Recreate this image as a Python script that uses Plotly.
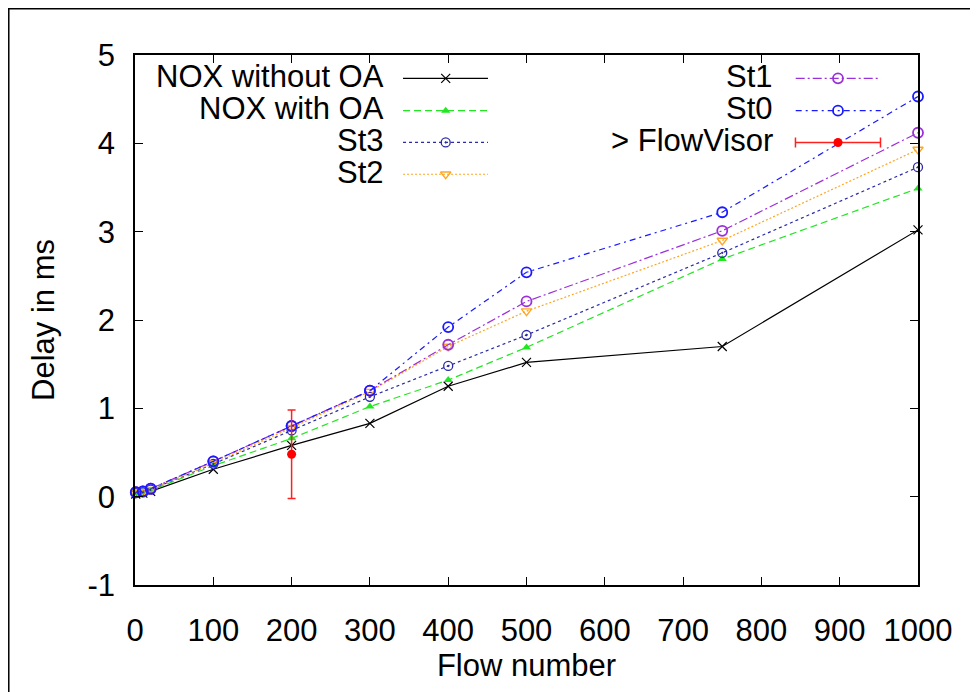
import plotly.graph_objects as go

# ---------------- data ----------------
flows = [1, 10, 20, 100, 200, 300, 400, 500, 750, 1000]
nox_without_oa = [0.03, 0.04, 0.06, 0.31, 0.58, 0.83, 1.25, 1.52, 1.70, 3.02]
nox_with_oa = [0.04, 0.05, 0.07, 0.35, 0.66, 1.02, 1.32, 1.69, 2.69, 3.49]
st3 = [0.04, 0.05, 0.08, 0.37, 0.75, 1.13, 1.48, 1.83, 2.76, 3.73]
st2 = [0.04, 0.05, 0.08, 0.38, 0.78, 1.19, 1.70, 2.10, 2.90, 3.93]
st1 = [0.05, 0.06, 0.09, 0.40, 0.80, 1.20, 1.72, 2.21, 3.01, 4.12]
st0 = [0.05, 0.06, 0.09, 0.40, 0.80, 1.20, 1.92, 2.54, 3.22, 4.53]
flowvisor_x = [200]
flowvisor_y = [0.48]
flowvisor_err = [0.50]

x_ticks = [0, 100, 200, 300, 400, 500, 600, 700, 800, 900, 1000]
y_ticks = [-1, 0, 1, 2, 3, 4, 5]

series_names = ["NOX without OA", "NOX with OA", "St3", "St2", "St1", "St0", "> FlowVisor"]

# ---------------- styles ----------------
FONT = "Liberation Sans, Arial, Helvetica, sans-serif"
FS = 31
styles = [
    dict(color="#000000", dash="solid", symbol="x-thin-open", size=9, mlw=1.2),
    dict(color="#22e622", dash="7px,4px", symbol="triangle-up", size=8, mlw=0),
    dict(color="#2a2aa8", dash="3px,3px", symbol="circle-open-dot", size=9, mlw=1.3),
    dict(color="#ffa520", dash="2px,2px", symbol="triangle-down-open", size=9, mlw=1.3),
    dict(color="#9b30d9", dash="9px,3px,2px,3px", symbol="circle-open", size=10, mlw=1.8),
    dict(color="#1a1aff", dash="6px,4px,2px,4px", symbol="circle-open", size=10, mlw=1.8),
]
series_vals = [nox_without_oa, nox_with_oa, st3, st2, st1, st0]

fig = go.Figure()

for name, vals, st in zip(series_names[:6], series_vals, styles):
    fig.add_trace(go.Scatter(
        x=flows, y=vals, mode="lines+markers", name=name,
        line=dict(color=st["color"], width=1.2, dash=st["dash"]),
        marker=dict(symbol=st["symbol"], size=st["size"], color=st["color"],
                    line=dict(color=st["color"], width=st["mlw"])),
        cliponaxis=False, showlegend=False,
    ))

fig.add_trace(go.Scatter(
    x=flowvisor_x, y=flowvisor_y, mode="markers", name=series_names[6],
    marker=dict(symbol="circle", size=9, color="#ff0000"),
    error_y=dict(type="data", array=flowvisor_err, color="#ff2020", thickness=1.5, width=4),
    cliponaxis=False, showlegend=False,
))

# ---------------- manual gnuplot-style key (overlay axes in 0..1 units) ----------------
key_rows = [0.956, 0.895, 0.835, 0.775]
col1 = dict(text_x=0.321, x0=0.3423, x1=0.4508, xm=0.3968)
col2 = dict(text_x=0.818, x0=0.8438, x1=0.9524, xm=0.8978)
key_layout = [(col1, key_rows[0]), (col1, key_rows[1]), (col1, key_rows[2]), (col1, key_rows[3]),
              (col2, key_rows[0]), (col2, key_rows[1])]

for name, st, (col, ky) in zip(series_names[:6], styles, key_layout):
    fig.add_trace(go.Scatter(
        x=[col["x0"], col["x1"]], y=[ky, ky], mode="lines", xaxis="x2", yaxis="y2",
        line=dict(color=st["color"], width=1.2, dash=st["dash"]),
        showlegend=False, hoverinfo="skip", cliponaxis=False,
    ))
    fig.add_trace(go.Scatter(
        x=[col["xm"]], y=[ky], mode="markers", xaxis="x2", yaxis="y2",
        marker=dict(symbol=st["symbol"], size=st["size"], color=st["color"],
                    line=dict(color=st["color"], width=st["mlw"])),
        showlegend=False, hoverinfo="skip", cliponaxis=False,
    ))
    fig.add_annotation(x=col["text_x"], y=ky + 0.004, xref="x2", yref="y2", text=name,
                       showarrow=False, xanchor="right", yanchor="middle",
                       font=dict(family=FONT, size=FS, color="black"))

# FlowVisor key
fig.add_trace(go.Scatter(
    x=[col2["xm"]], y=[key_rows[2]], mode="markers", xaxis="x2", yaxis="y2",
    marker=dict(symbol="circle", size=9, color="#ff0000"),
    error_x=dict(type="data", array=[(col2["x1"] - col2["x0"]) / 2], color="#ff2020",
                 thickness=1.5, width=5),
    showlegend=False, hoverinfo="skip", cliponaxis=False,
))
fig.add_annotation(x=col2["text_x"], y=key_rows[2] + 0.004, xref="x2", yref="y2", text=series_names[6],
                   showarrow=False, xanchor="right", yanchor="middle",
                   font=dict(family=FONT, size=FS, color="black"))

axis_common = dict(showgrid=False, zeroline=False, showline=True, linecolor="black", linewidth=1.5,
                   ticks="inside", ticklen=8, tickwidth=1.2, tickcolor="black", mirror="ticks",
                   tickfont=dict(family=FONT, size=FS, color="black"))

fig.update_layout(
    width=978, height=692,
    margin=dict(l=127, r=68, t=47, b=115),
    paper_bgcolor="white", plot_bgcolor="white",
    font=dict(family=FONT, size=FS, color="black"),
    xaxis=dict(range=[0, 1000], tickvals=x_ticks, ticktext=[str(v) for v in x_ticks],
               title=dict(text="Flow number", font=dict(family=FONT, size=FS), standoff=0),
               ticklabelstandoff=17, **axis_common),
    yaxis=dict(range=[-1, 5], tickvals=y_ticks, ticktext=[str(v) for v in y_ticks],
               title=dict(text="Delay in ms", font=dict(family=FONT, size=FS), standoff=24),
               ticklabelstandoff=12, **axis_common),
    xaxis2=dict(range=[0, 1], overlaying="x", visible=False, fixedrange=True),
    yaxis2=dict(range=[0, 1], overlaying="y", visible=False, fixedrange=True),
    showlegend=False,
)

# outer frame (cropped canvas border)
fig.add_shape(type="rect", xref="paper", yref="paper",
              x0=-0.1612, x1=1.2, y0=-0.3, y1=1.0873,
              line=dict(color="black", width=1.5), fillcolor="rgba(0,0,0,0)", layer="below")

fig.write_html("out.html")
